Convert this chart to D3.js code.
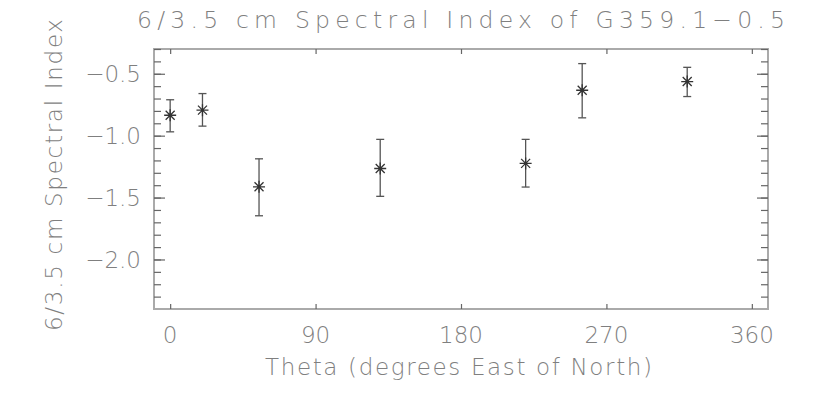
<!DOCTYPE html>
<html><head><meta charset="utf-8">
<script src="https://cdn.jsdelivr.net/npm/d3@7"></script>
<style>body{margin:0;background:#fff}svg{display:block}text{font-family:"DejaVu Sans",sans-serif;font-weight:200;fill:#7f7f7f}</style>
</head><body><svg id="c" width="815" height="408"></svg>
<script>
const theta = [0, 20, 55, 130, 220, 255, 320];
const specIndex = [-0.835, -0.794, -1.413, -1.265, -1.224, -0.633, -0.563];
const errUp = [0.125, 0.134, 0.226, 0.235, 0.194, 0.215, 0.115];
const errDown = [0.134, 0.129, 0.234, 0.225, 0.191, 0.223, 0.121];
const xTicks = [0, 90, 180, 270, 360];
const yTicks = [-2.0, -1.5, -1.0, -0.5];
const titleText = "6/3.5 cm Spectral Index of G359.1\u22120.5";
const xLabel = "Theta (degrees East of North)";
const yLabel = "6/3.5 cm Spectral Index";

const svg = d3.select("#c");
const L = 154, R = 768, T = 49, B = 309;
const x = d3.scaleLinear().domain([-10, 370]).range([L, R]);
const y = d3.scaleLinear().domain([-2.4, -0.3]).range([B, T]);
const axisCol = "#aaaaaa";
const fmt = d => d.toFixed(1).replace("-", "\u2212");

// frame
svg.append("rect").attr("x", L).attr("y", T).attr("width", R - L).attr("height", B - T)
  .attr("fill", "none").attr("stroke", axisCol).attr("stroke-width", 2);

// axes via d3 axis generators (inward ticks)
const gB = svg.append("g").attr("transform", `translate(0,${B})`)
  .call(d3.axisTop(x).tickValues(xTicks).tickSize(5).tickFormat(""));
const gT = svg.append("g").attr("transform", `translate(0,${T})`)
  .call(d3.axisBottom(x).tickValues(xTicks).tickSize(5).tickFormat(""));
const minorY = d3.range(-2.3, -0.29, 0.1).map(v => +v.toFixed(1));
const gL = svg.append("g").attr("transform", `translate(${L},0)`)
  .call(d3.axisRight(y).tickValues(minorY).tickSize(7).tickFormat(""));
const gR = svg.append("g").attr("transform", `translate(${R},0)`)
  .call(d3.axisLeft(y).tickValues(minorY).tickSize(7).tickFormat(""));
const gL2 = svg.append("g").attr("transform", `translate(${L},0)`)
  .call(d3.axisRight(y).tickValues(yTicks).tickSize(11).tickFormat(""));
const gR2 = svg.append("g").attr("transform", `translate(${R},0)`)
  .call(d3.axisLeft(y).tickValues(yTicks).tickSize(11).tickFormat(""));
[gB, gT, gL, gR, gL2, gR2].forEach(g => {
  g.select(".domain").remove();
  g.selectAll("line").attr("stroke", "#666").attr("stroke-width", 1.2);
});

// tick labels
svg.append("g").selectAll("text").data(xTicks).join("text")
  .attr("x", d => x(d)).attr("y", 343).attr("text-anchor", "middle")
  .attr("font-size", 23).text(d => d);
svg.append("g").selectAll("text").data(yTicks).join("text")
  .attr("x", 141).attr("y", d => y(d) + 8.5).attr("text-anchor", "end")
  .attr("font-size", 23).text(d => fmt(d));

// titles
svg.append("text").attr("x", 137).attr("y", 28).attr("font-size", 23.5)
  .attr("textLength", 648).attr("lengthAdjust", "spacing").text(titleText);
svg.append("text").attr("x", 265).attr("y", 375).attr("font-size", 23)
  .attr("textLength", 387).attr("lengthAdjust", "spacing").text(xLabel);
svg.append("text").attr("transform", "translate(62,331) rotate(-90)")
  .attr("font-size", 23).attr("textLength", 312).attr("lengthAdjust", "spacing").text(yLabel);

// error bars
const pts = theta.map((t, i) => ({t, v: specIndex[i], lo: specIndex[i] - errDown[i], hi: specIndex[i] + errUp[i]}));
const eb = svg.append("g").attr("stroke", "#555").attr("stroke-width", 1.3);
eb.selectAll(".v").data(pts).join("line")
  .attr("x1", d => x(d.t)).attr("x2", d => x(d.t)).attr("y1", d => y(d.lo)).attr("y2", d => y(d.hi));
eb.selectAll(".c1").data(pts).join("line")
  .attr("x1", d => x(d.t) - 4).attr("x2", d => x(d.t) + 4).attr("y1", d => y(d.hi)).attr("y2", d => y(d.hi));
eb.selectAll(".c2").data(pts).join("line")
  .attr("x1", d => x(d.t) - 4).attr("x2", d => x(d.t) + 4).attr("y1", d => y(d.lo)).attr("y2", d => y(d.lo));

// asterisk markers
const star = "M-6,0H6M0,-6V6M-4.5,-4.5L4.5,4.5M-4.5,4.5L4.5,-4.5";
svg.append("g").selectAll("path").data(pts).join("path")
  .attr("transform", d => `translate(${x(d.t)},${y(d.v)})`)
  .attr("d", star).attr("stroke", "#333").attr("stroke-width", 1.3).attr("fill", "none");
</script></body></html>
